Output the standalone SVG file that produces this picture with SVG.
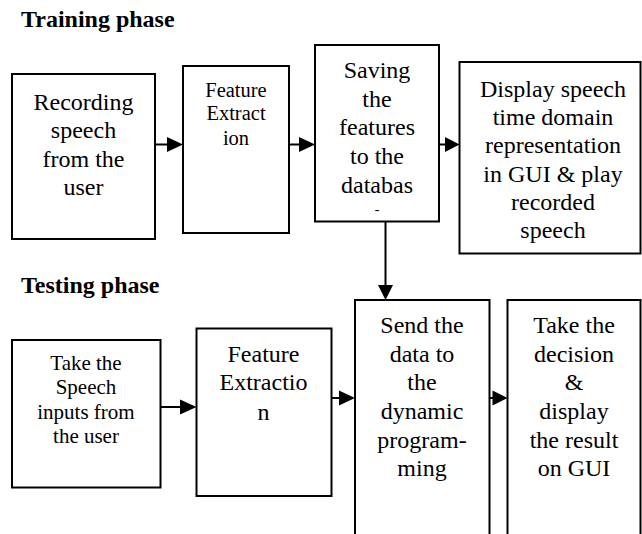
<svg xmlns="http://www.w3.org/2000/svg" width="642" height="534" viewBox="0 0 642 534">
  <style>
    .box { fill: #ffffff; stroke: #000000; stroke-width: 2; }
    .title { font-family: "Liberation Serif", "Times New Roman", serif; font-weight: bold; font-size: 24px; fill: #000; }
    .lbl { font-family: "Liberation Serif", "Times New Roman", serif; font-size: 24px; fill: #000; text-anchor: middle; }
    .sm { font-size: 20.5px; }
    .md { font-size: 21px; }
    .wire { stroke: #000; stroke-width: 2; fill: none; }
    .head { fill: #000; stroke: none; }
  </style>
  <rect width="642" height="534" fill="#ffffff"/>

  <text class="title" x="21" y="27">Training phase</text>
  <text class="title" x="21" y="293">Testing phase</text>

  <!-- Training phase -->
  <g id="record">
    <rect class="box" x="12" y="74" width="143" height="165"/>
    <text class="lbl"><tspan x="83.5" y="110">Recording</tspan><tspan x="83.5" y="138.3">speech</tspan><tspan x="83.5" y="166.6">from the</tspan><tspan x="83.5" y="195">user</tspan></text>
  </g>
  <g id="extract-train">
    <rect class="box" x="183" y="66" width="106" height="167"/>
    <text class="lbl sm"><tspan x="236" y="97">Feature</tspan><tspan x="236" y="120">Extract</tspan><tspan x="236" y="145">ion</tspan></text>
  </g>
  <g id="save">
    <rect class="box" x="315" y="45" width="124" height="176.5"/>
    <text class="lbl"><tspan x="377" y="78">Saving</tspan><tspan x="377" y="107">the</tspan><tspan x="377" y="135">features</tspan><tspan x="377" y="164">to the</tspan><tspan x="377" y="193">databas</tspan><tspan x="377" y="214" font-size="14">-</tspan></text>
  </g>
  <g id="display">
    <rect class="box" x="459.5" y="62" width="181" height="191.5"/>
    <text class="lbl"><tspan x="553" y="96.7">Display speech</tspan><tspan x="553" y="125">time domain</tspan><tspan x="553" y="153.3">representation</tspan><tspan x="553" y="181.6">in GUI &amp; play</tspan><tspan x="553" y="210">recorded</tspan><tspan x="553" y="238.3">speech</tspan></text>
  </g>

  <!-- Testing phase -->
  <g id="input">
    <rect class="box" x="12" y="340" width="148.5" height="147.5"/>
    <text class="lbl md"><tspan x="86" y="370">Take the</tspan><tspan x="86" y="393.5">Speech</tspan><tspan x="86" y="418.5">inputs from</tspan><tspan x="86" y="443.3">the user</tspan></text>
  </g>
  <g id="extract-test">
    <rect class="box" x="196.5" y="328.5" width="135" height="167.5"/>
    <text class="lbl"><tspan x="263.5" y="361.7">Feature</tspan><tspan x="263.5" y="390">Extractio</tspan><tspan x="263.5" y="420">n</tspan></text>
  </g>
  <g id="dp">
    <rect class="box" x="355" y="300" width="134.5" height="250"/>
    <text class="lbl"><tspan x="422" y="333">Send the</tspan><tspan x="422" y="361.7">data to</tspan><tspan x="422" y="390">the</tspan><tspan x="422" y="419">dynamic</tspan><tspan x="422" y="447.7">program-</tspan><tspan x="422" y="476.3">ming</tspan></text>
  </g>
  <g id="decide">
    <rect class="box" x="507.5" y="300" width="133" height="250"/>
    <text class="lbl"><tspan x="574" y="333">Take the</tspan><tspan x="574" y="361.7">decision</tspan><tspan x="574" y="390">&amp;</tspan><tspan x="574" y="419">display</tspan><tspan x="574" y="447.7">the result</tspan><tspan x="574" y="476.3">on GUI</tspan></text>
  </g>

  <!-- Connectors -->
  <g id="connectors">
    <line class="wire" x1="155" y1="144.5" x2="168" y2="144.5"/>
    <polygon class="head" points="167,137 183,144.5 167,152"/>
    <line class="wire" x1="289" y1="144.5" x2="300" y2="144.5"/>
    <polygon class="head" points="299,137 315,144.5 299,152"/>
    <line class="wire" x1="439" y1="144.5" x2="446" y2="144.5"/>
    <polygon class="head" points="445,137 459.5,144.5 445,152"/>
    <line class="wire" x1="385.5" y1="221.5" x2="385.5" y2="286"/>
    <polygon class="head" points="378,285 393,285 385.5,300"/>
    <line class="wire" x1="160.5" y1="407" x2="181" y2="407"/>
    <polygon class="head" points="180,399.5 196.5,407 180,414.5"/>
    <line class="wire" x1="331.5" y1="398" x2="340" y2="398"/>
    <polygon class="head" points="339,390.5 355,398 339,405.5"/>
    <line class="wire" x1="489.5" y1="398" x2="493" y2="398"/>
    <polygon class="head" points="492.5,390.5 507.5,398 492.5,405.5"/>
  </g>
</svg>
